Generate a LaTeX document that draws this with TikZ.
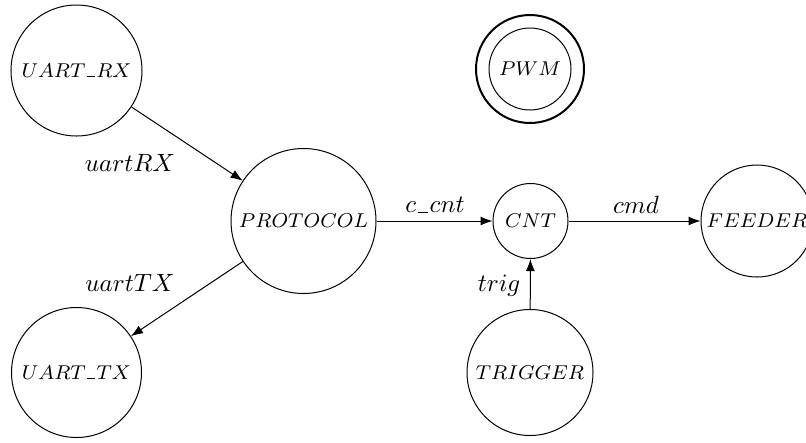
\documentclass[tikz,border=0pt]{standalone}
\usepackage{amsmath}
\usetikzlibrary{arrows.meta}
% short underscore, as in the OT1 fonts
\newcommand{\usc}{\kern.06em\vbox{\hrule width .42em}\kern.06em}

\begin{document}
\begin{tikzpicture}[x=0.4pt,y=-0.4pt,
  state/.style={draw,circle,inner sep=0pt,minimum size=#1,font=\footnotesize},
  flow/.style={-{Latex}},
  lbl/.style={inner sep=0pt}
]
  \useasboundingbox (0,0) rectangle (806,442);

  % blocks
  \node[state=52.4pt] (uartrx) at (76.5,70.5) {$UART\usc RX$};
  \node[state=52pt] (uarttx) at (76.5,372.5) {$UART\usc TX$};
  \node[state=58pt] (proto) at (303.5,221) {$PROTOCOL$};
  \node[state=30pt] (cnt) at (530.5,221) {$CNT$};
  \node[state=44.8pt] (feeder) at (757,221) {$FEEDER$};
  \node[state=50.4pt] (trigger) at (530,372.5) {$TRIGGER$};

  % PWM runs on its own
  \node[state=32.8pt] (pwm) at (530,69) {$PWM$};
  \draw[line width=0.8pt] (pwm.center) circle[radius=21.6pt];

  % signals
  \draw[flow] (uartrx) -- (proto);
  \draw[flow] (proto) -- (uarttx);
  \draw[flow] (proto) -- (cnt);
  \draw[flow] (cnt) -- (feeder);
  \draw[flow] (trigger) -- (cnt);

  \node[lbl] (lrx) at (130,163) {$uartRX$};
  \node[lbl] (ltx) at (130,283) {$uartTX$};
  \node[lbl] (lcnt) at (435,205) {$c\usc cnt$};
  \node[lbl] (lcmd) at (636,205) {$cmd$};
  \node[lbl] (ltrig) at (499,286) {$trig$};
\end{tikzpicture}
\end{document}
